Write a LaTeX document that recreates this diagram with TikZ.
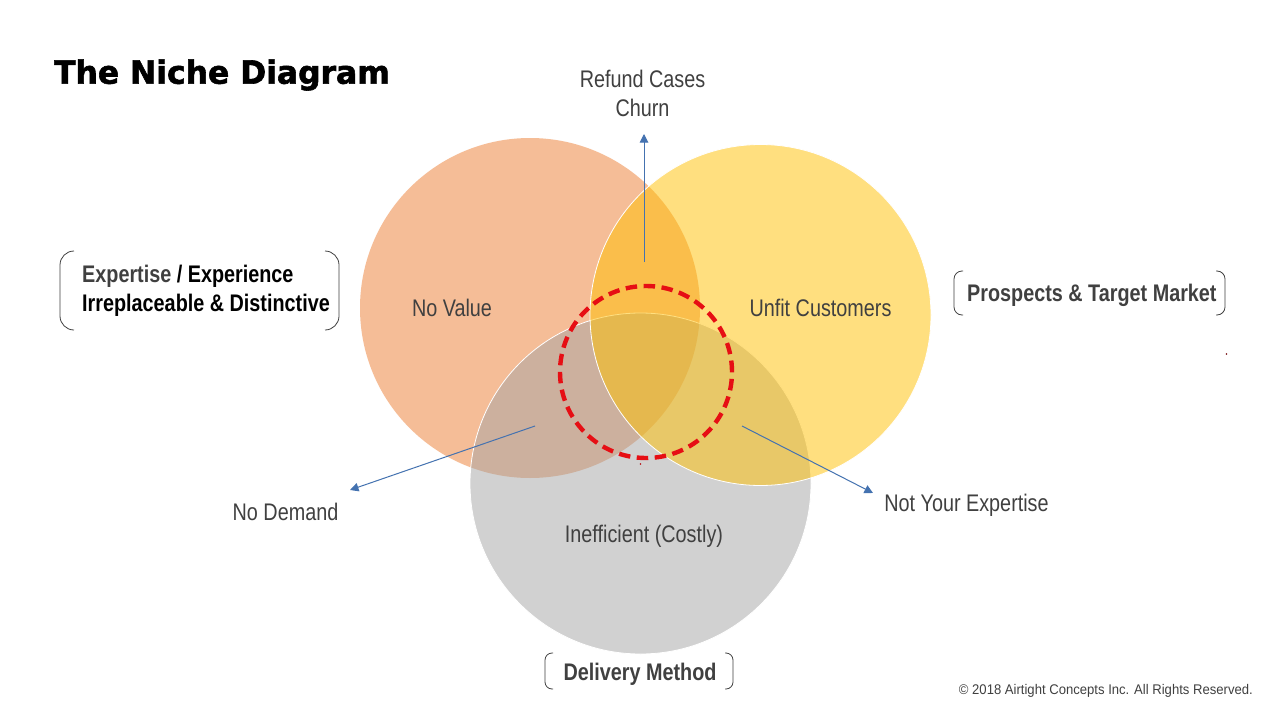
\documentclass[tikz,border=0pt]{standalone}
\usepackage{fontspec}
\usetikzlibrary{arrows.meta}
\setmainfont{Liberation Sans}
\newfontfamily\nar[FakeStretch=.825]{Liberation Sans}
\newfontfamily\cpy[FakeStretch=.935]{Liberation Sans}
\newfontfamily\ttl[FakeStretch=.98,FakeBold=1.8]{DejaVu Sans}
\definecolor{txt}{HTML}{404040}
\definecolor{arr}{HTML}{4472B0}
\definecolor{dred}{HTML}{E60E14}
\tikzset{
 vset/.style={circle,inner sep=0pt,fill opacity=.5},
 lab/.style={font=\nar\fontsize{24}{29}\selectfont,text=txt,inner sep=0pt,align=center},
 blab/.style={font=\nar\bfseries\fontsize{24}{29}\selectfont,text=txt,inner sep=0pt,align=left},
 brk/.style={draw=txt,line width=.8pt},
 lnk/.style={draw=arr,line width=1pt,-{Triangle[length=8.5pt,width=8.5pt]}}
}
\begin{document}
\begin{tikzpicture}[x=1pt,y=-1pt]
\useasboundingbox (0,0) rectangle (1280,720);
\fill[white] (0,0) rectangle (1280,720);
\node[vset,fill={rgb,255:red,237;green,125;blue,49},minimum size=340pt] (cA) at (530,308) {};
\node[vset,fill={rgb,255:red,165;green,165;blue,165},draw=white,draw opacity=1,line width=.8pt,minimum size=341pt] (cC) at (640.5,483.5) {};
\node[vset,fill={rgb,255:red,255;green,192;blue,0},draw=white,draw opacity=1,line width=.8pt,minimum size=341pt] (cB) at (760.5,315) {};
\node[circle,inner sep=0pt,minimum size=172pt,draw=dred,line width=4.4pt,dash pattern=on 11.5pt off 6.5pt] (core) at (646,372) {};

\node[anchor=west,inner sep=0pt,font=\ttl\bfseries\fontsize{32}{38}\selectfont,text=black] (title) at (54,75) {The Niche Diagram};

\node[lab] (refund) at (642.5,93.5) {Refund Cases\\Churn};
\node[lab] (novalue) at (452,308) {No Value};
\node[lab] (unfit) at (820.5,308) {Unfit Customers};
\node[lab] (ineff) at (644,536) {Inefficient (Costly)};
\node[lab] (nodemand) at (285.5,512) {No Demand};
\node[lab] (notexp) at (966.5,505) {Not Your Expertise};

\node[blab,anchor=west] (exp) at (82,291) {Expertise \textcolor{black}{/ Experience}\\\textcolor{black}{Irreplaceable \& Distinctive}};
\node[blab,anchor=west] (pros) at (967,295) {Prospects \& Target Market};
\node[blab] (deliv) at (640,674) {Delivery Method};

\coordinate (a1s) at (644,262); \coordinate (a1e) at (644,134);
\coordinate (a2s) at (535,426); \coordinate (a2e) at (350,490);
\coordinate (a3s) at (742,426); \coordinate (a3e) at (873,493);
\draw[lnk] (a1s) -- (a1e);
\draw[lnk] (a2s) -- (a2e);
\draw[lnk] (a3s) -- (a3e);

\draw[brk,rounded corners=14pt] (74,251) -- (60,251) -- (60,330) -- (74,330);
\draw[brk,rounded corners=14pt] (325,251) -- (339,251) -- (339,330) -- (325,330);
\draw[brk,rounded corners=8pt] (963,271) -- (954,271) -- (954,315) -- (963,315);
\draw[brk,rounded corners=8pt] (1216,271) -- (1225,271) -- (1225,315) -- (1216,315);
\draw[brk,rounded corners=7pt] (553,653) -- (545,653) -- (545,689) -- (553,689);
\draw[brk,rounded corners=7pt] (725,653) -- (733,653) -- (733,689) -- (725,689);

\fill[dred!80!black] (640.5,464) circle (.8);
\fill[dred!50!black] (1226.5,354) circle (.8);

\node[anchor=east,inner sep=0pt,font=\cpy\fontsize{14}{17}\selectfont,text=txt] (copy) at (1253,691) {© 2018 Airtight Concepts Inc. All Rights Reserved.};
\end{tikzpicture}
\end{document}
